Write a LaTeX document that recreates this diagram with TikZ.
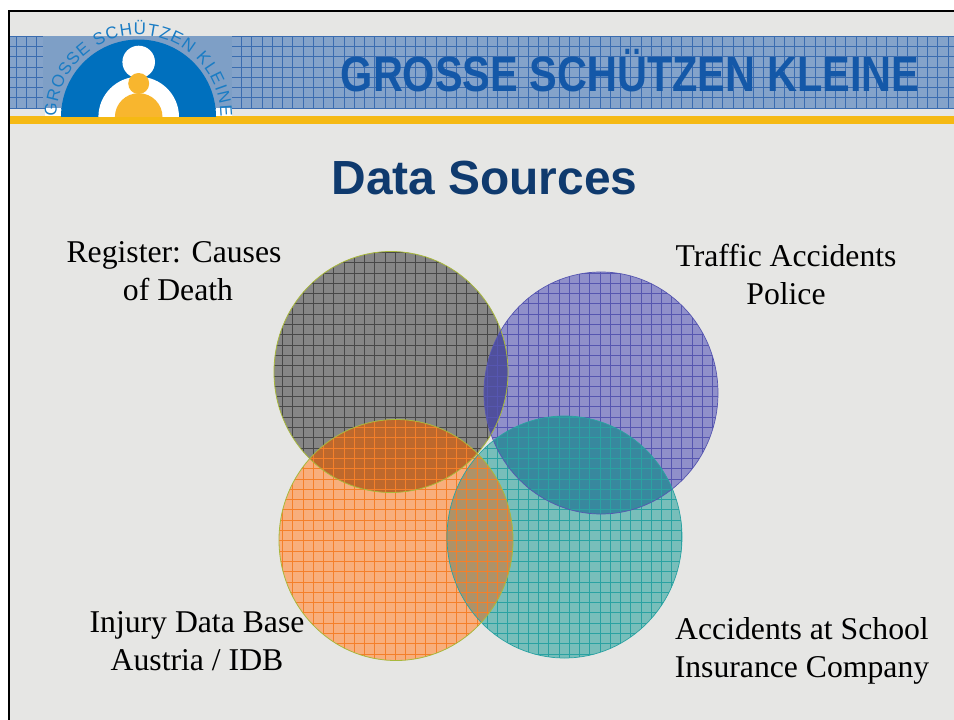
\documentclass[tikz,border=0pt]{standalone}
\usepackage{graphicx}
\usepackage{fontspec}
\setmainfont{Liberation Serif}
\newfontfamily\headfont{Liberation Sans}
\usetikzlibrary{decorations.text}
\definecolor{slidebg}{HTML}{E6E6E4}
\definecolor{bandfill}{HTML}{84A3CA}
\definecolor{bandline}{HTML}{3A6CB0}
\definecolor{logopale}{HTML}{7E9FC6}
\definecolor{logoblue}{HTML}{0070BE}
\definecolor{logotext}{HTML}{1A7CC4}
\definecolor{logoorange}{HTML}{F8B62E}
\definecolor{barorange}{HTML}{F5B914}
\definecolor{headblue}{HTML}{1458A8}
\definecolor{titleblue}{HTML}{0F3A6E}
\definecolor{greyfill}{HTML}{868686}
\definecolor{greyline}{HTML}{484848}
\definecolor{bluefill}{HTML}{9090CA}
\definecolor{blueline}{HTML}{5656B0}
\definecolor{tealfill}{HTML}{78BEBA}
\definecolor{tealline}{HTML}{2AA2A2}
\definecolor{orangefill}{HTML}{F8AE7C}
\definecolor{orangeline}{HTML}{F47F2A}
\definecolor{greyblue}{HTML}{50509C}
\definecolor{greyorange}{HTML}{BE682C}
\definecolor{blueteal}{HTML}{38889E}
\definecolor{orangeteal}{HTML}{AE9268}
\definecolor{limeedge}{HTML}{A8B83C}
\tikzset{
  label text/.style={font=\fontsize{31.7}{38}\selectfont,align=center,text=black,inner sep=0pt},
  grid line/.style={line width=0.75pt}
}
\newcommand{\gridV}[1]{\foreach \i in {0,...,92}{\draw[grid line,#1] ({6+10.24*\i},0)--({6+10.24*\i},720);}}
\newcommand{\gridH}[1]{\foreach \i in {0,...,69}{\draw[grid line,#1] (0,{5.1+10.3*\i})--(954,{5.1+10.3*\i});}}
\newcommand{\cGrey}{(391,372) ellipse [x radius=117,y radius=120.5]}
\newcommand{\cBlue}{(601,393) ellipse [x radius=117,y radius=121]}
\newcommand{\cTeal}{(564.5,537) ellipse [x radius=117.5,y radius=121]}
\newcommand{\cOrange}{(396,540) ellipse [x radius=117,y radius=120.5]}
\begin{document}
\begin{tikzpicture}[x=1pt,y=-1pt]
\useasboundingbox (0,0) rectangle (954,720);
\fill[white] (0,0) rectangle (954,720);
\fill[slidebg] (9,11) rectangle (954,720);
% header band
\fill[bandfill] (10,36) rectangle (954,108);
\begin{scope}
\clip (10,36) rectangle (954,108.5);
\gridV{bandline}
\gridH{bandline}
\end{scope}
\fill[logopale] (43,36) rectangle (232,108);
\fill[barorange] (10,116) rectangle (954,124);
% header text
\node[font=\headfont\bfseries\fontsize{49.5}{50}\selectfont,text=headblue,anchor=base,inner sep=0pt] (head) at (630,91.5) {\scalebox{0.838}[1]{GROSSE SCHÜTZEN KLEINE}};
% logo
\begin{scope}
\clip (40,20) rectangle (240,116);
\fill[white] (45,108) rectangle (61,116);
\fill[white] (216,108) rectangle (232,116);
\fill[logoblue] (138.5,117) circle [radius=77.5];
\fill[white] (138.7,62) circle [radius=16.3];
\fill[white] (138.7,117) circle [radius=40.3];
\fill[logoorange] (138.7,83.5) circle [radius=10.5];
\fill[logoorange] (138.7,117) circle [radius=23.8];
\end{scope}
\path[postaction={decorate},decoration={text along path,text align=fit to path,
  text={|\headfont\fontsize{17}{18}\selectfont\color{logotext}|GROSSE SCH{Ü}TZEN KLEINE}}]
  (56.5,117) arc [start angle=180,end angle=360,radius=82];
% title
\node[font=\headfont\bfseries\fontsize{47.9}{50}\selectfont,text=titleblue,anchor=base,inner sep=0pt] (title) at (484.5,194.5) {Data Sources};
% circles: base fills
\fill[greyfill] \cGrey;
\fill[bluefill] \cBlue;
\fill[tealfill] \cTeal;
\fill[orangefill] \cOrange;
% overlaps
\begin{scope}\clip \cGrey; \fill[greyblue] \cBlue; \end{scope}
\begin{scope}\clip \cGrey; \fill[greyorange] \cOrange; \end{scope}
\begin{scope}\clip \cBlue; \fill[blueteal] \cTeal; \end{scope}
\begin{scope}\clip \cOrange; \fill[orangeteal] \cTeal; \end{scope}
% grids
\begin{scope}\clip \cGrey; \gridV{greyline} \gridH{greyline} \end{scope}
\begin{scope}\clip \cBlue; \gridV{blueline} \gridH{blueline} \end{scope}
\begin{scope}\clip \cTeal; \gridV{tealline} \gridH{tealline} \end{scope}
\begin{scope}\clip \cOrange; \gridV{orangeline} \gridH{orangeline} \end{scope}
% outlines
\draw[limeedge,line width=0.8pt] \cGrey;
\draw[blueline,line width=0.7pt] \cBlue;
\draw[tealline,line width=0.7pt] \cTeal;
\draw[limeedge,line width=0.8pt] \cOrange;
% labels
\node[label text,anchor=base] (reg) at (174,300) {Register: Causes\\\hspace*{8pt}of Death};
\node[label text,anchor=base] (traf) at (786,304) {Traffic Accidents\\Police};
\node[label text,anchor=base] (inj) at (197,670.5) {Injury Data Base\\Austria / IDB};
\node[label text,anchor=base] (acc) at (802,677) {Accidents at School\\Insurance Company};
% slide border
\draw[black,line width=2.4pt] (8.7,720) -- (8.7,10.7) -- (954,10.7);
\end{tikzpicture}
\end{document}
